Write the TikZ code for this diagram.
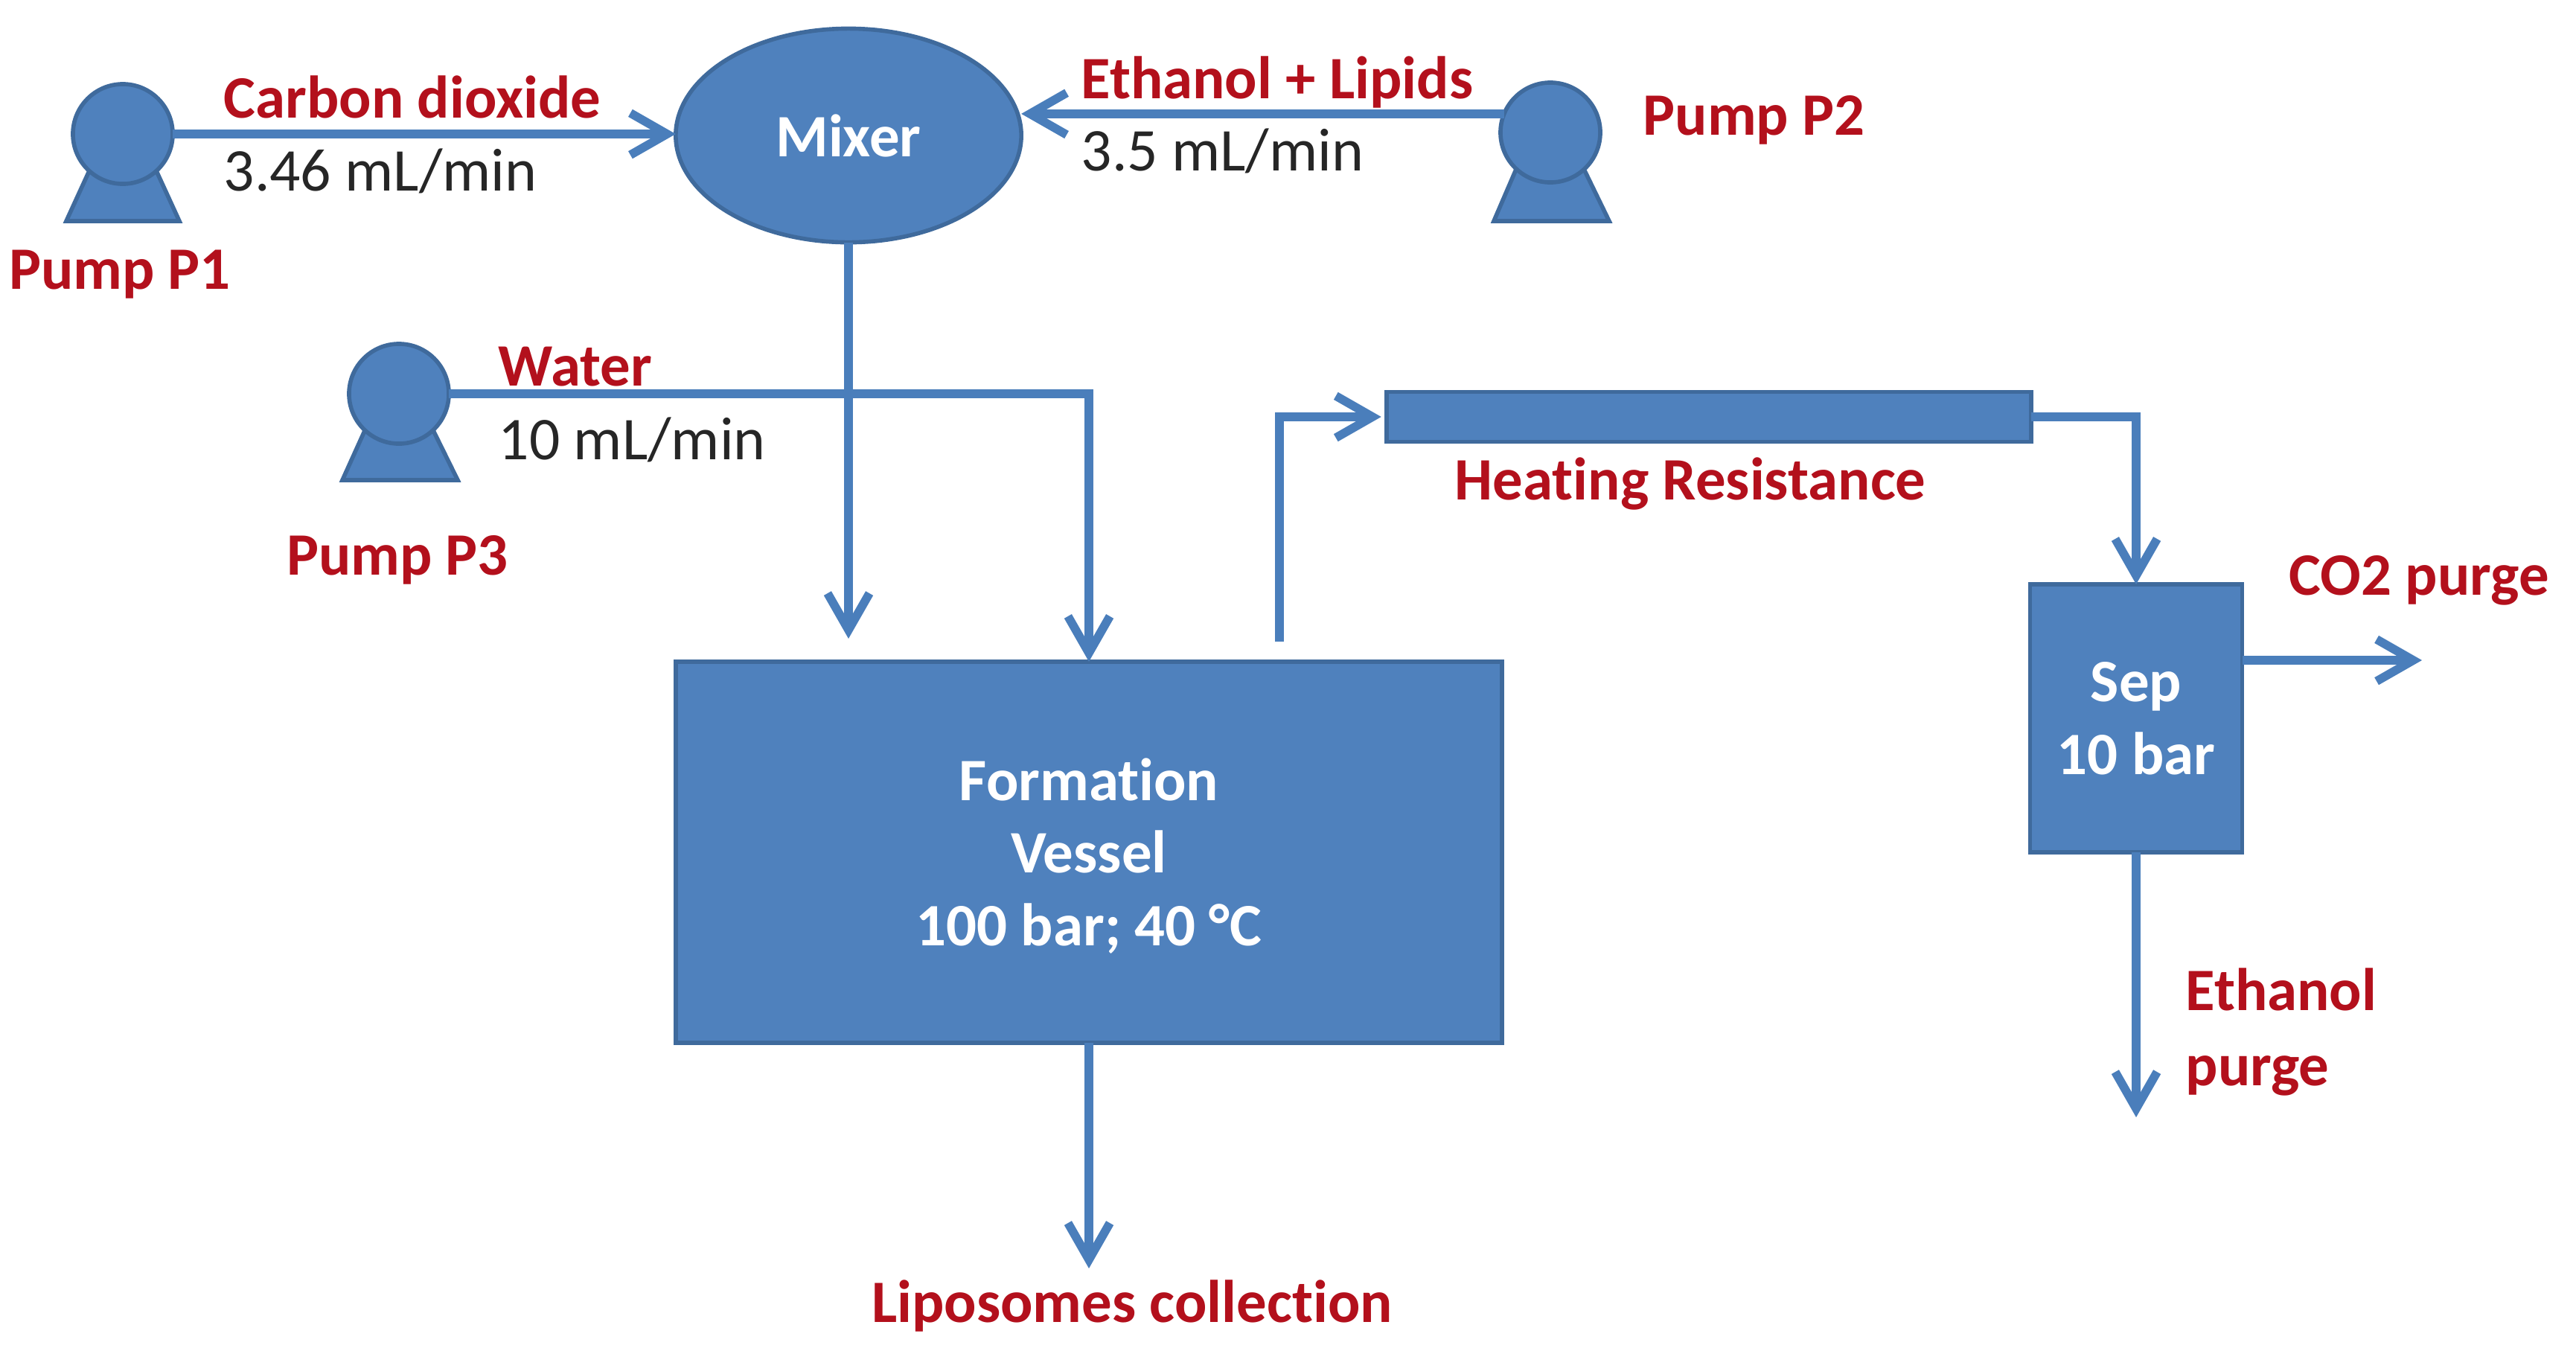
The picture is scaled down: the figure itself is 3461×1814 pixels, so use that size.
\documentclass[tikz,border=0pt]{standalone}
\usepackage{fontspec}
\setmainfont{Carlito}[Ligatures=NoCommon]
\usetikzlibrary{arrows.meta,shapes.geometric}
\definecolor{boxfill}{HTML}{4F81BD}
\definecolor{boxline}{HTML}{3F6A9C}
\definecolor{flowcol}{HTML}{4A7EBB}
\definecolor{redtxt}{HTML}{B3101C}
\definecolor{darktxt}{HTML}{262626}
\tikzset{
  unit/.style={fill=boxfill,draw=boxline,line width=1.6pt,outer sep=0pt,inner sep=0pt},
  vesselbox/.style={unit,rectangle,text=white,align=center,font=\fontsize{23}{27.8}\selectfont\bfseries},
  pumphead/.style={unit,circle,minimum size=1.34cm},
  pumpbase/.style={fill=boxfill,draw=boxline,line width=1.6pt,line join=miter},
  flow/.style={draw=flowcol,line width=3.3pt,-{Straight Barb[length=14pt,width=16pt,line width=3.3pt]}},
  redlabel/.style={text=redtxt,font=\fontsize{23}{27.8}\selectfont\bfseries,inner sep=0pt,align=left},
  ratelabel/.style={text=darktxt,font=\fontsize{23.2}{27.8}\selectfont,inner sep=0pt},
}
\begin{document}
\begin{tikzpicture}[x=0.01cm,y=-0.01cm]
\path[use as bounding box] (0,0) rectangle (3461,1814);
% pump bases
\draw[pumpbase] (122,225) -- (89,297) -- (241,297) -- (208,225) -- cycle;
\draw[pumpbase] (2038,225) -- (2007,297) -- (2162,297) -- (2127,225) -- cycle;
\draw[pumpbase] (493,572) -- (460,645) -- (615,645) -- (579,572) -- cycle;
% units
\node[pumphead] (p1) at (165,180) {};
\node[pumphead] (p2) at (2083,178) {};
\node[pumphead] (p3) at (536,529) {};
\node[unit,ellipse,minimum width=4.64cm,minimum height=2.87cm,text=white,font=\fontsize{23}{27.8}\selectfont\bfseries] (mixer) at (1140,182) {Mixer};
\node[vesselbox,minimum width=11.09cm,minimum height=5.12cm] (vessel) at (1463,1145) {\rule{0pt}{19pt}Formation\\Vessel\\100 bar; 40 °C};
\node[unit,rectangle,minimum width=8.66cm,minimum height=0.67cm] (heater) at (2296,560) {};
\node[vesselbox,minimum width=2.85cm,minimum height=3.6cm] (sep) at (2870,965) {Sep\\10 bar};
% free ends
\coordinate (mixerend) at (1140,858);
\coordinate (vesselout) at (1719,862);
\coordinate (co2end) at (3254,887);
\coordinate (ethend) at (2870,1501);
\coordinate (lipend) at (1463,1704);
% connectors
\draw[flow] (p1.east) -- (p1.east -| mixer.west);
\draw[flow] (p2.158) -- (mixer.east |- p2.158);
\draw[flow] (mixer.south) -- (mixerend);
\draw[flow] (p3.east) -| (vessel.north);
\draw[flow,shorten >=2pt] (vesselout) |- (heater.west);
\draw[flow] (heater.east) -| (sep.north);
\draw[flow] (sep.east |- co2end) -- (co2end);
\draw[flow] (sep.south) -- (ethend);
\draw[flow] (vessel.south) -- (lipend);
% labels
\node[redlabel,anchor=base west] (l1) at (300,158) {Carbon dioxide};
\node[ratelabel,anchor=base west] (l2) at (300,256) {3.46 mL/min};
\node[redlabel,anchor=base west] (l3) at (1452,132) {Ethanol + Lipids};
\node[ratelabel,anchor=base west] (l4) at (1452,229) {3.5 mL/min};
\node[redlabel,anchor=base west] (l5) at (2207,181) {Pump P2};
\node[redlabel,anchor=base] (l6) at (161,388) {Pump P1};
\node[redlabel,anchor=base west] (l7) at (669,518) {Water};
\node[ratelabel,anchor=base west] (l8) at (669,617) {10 mL/min};
\node[redlabel,anchor=base] (l9) at (534,772) {Pump P3};
\node[redlabel,anchor=base] (l10) at (2271,671) {Heating Resistance};
\node[redlabel,anchor=base west] (l11) at (3075,799) {CO2 purge};
\node[redlabel,anchor=base west] (l12) at (2936,1357) {Ethanol};
\node[redlabel,anchor=base west] (l13) at (2936,1458) {purge};
\node[redlabel,anchor=base] (l14) at (1521,1776) {Liposomes collection};
\end{tikzpicture}
\end{document}
